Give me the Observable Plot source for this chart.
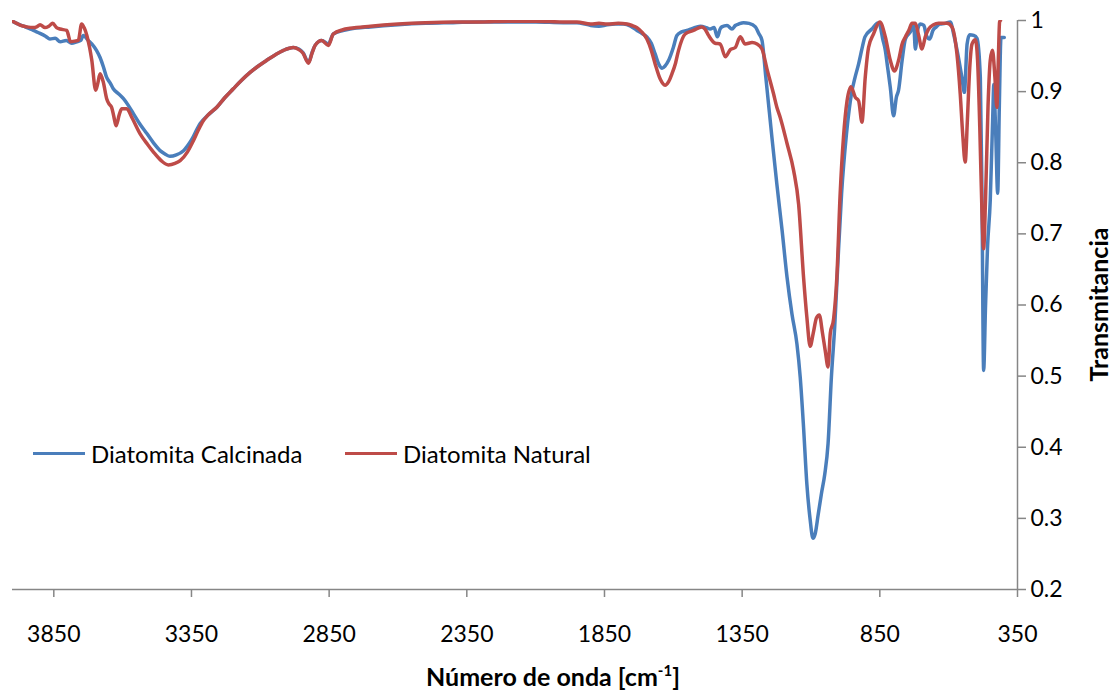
<!DOCTYPE html>
<html>
<head>
<meta charset="utf-8">
<script src="https://cdn.jsdelivr.net/npm/d3@7"></script>
<script src="https://cdn.jsdelivr.net/npm/@observablehq/plot@0.6"></script>
<style>
  html, body { margin: 0; padding: 0; background: #fff; }
  #wrap { position: relative; width: 1118px; height: 692px; font-family: Lato, "Open Sans", sans-serif; }
  .leg { position: absolute; display: flex; align-items: center; font-size: 24px; color: #000; white-space: nowrap; }
  .sw { display: inline-block; width: 52px; height: 3.5px; margin-right: 6px; }
</style>
</head>
<body>
<div id="wrap"></div>
<script>
// ---- Data ----
const xTicks = [3850, 3350, 2850, 2350, 1850, 1350, 850, 350];
const yTicks = [0.2, 0.3, 0.4, 0.5, 0.6, 0.7, 0.8, 0.9, 1];
const xDomain = [4000, 350];
const yDomain = [0.2, 1];
const seriesNames = ["Diatomita Calcinada", "Diatomita Natural"];
const seriesColors = ["#4A7EBB", "#BE4B48"];

const calcWn = [4000,3985,3960,3940,3924,3900,3880,3864,3845,3827,3805,3785,3767,3752,3743,3725,3712,3695,3682,3670,3658,3645,3634,3615,3597,3580,3561,3535,3512,3488,3464,3445,3428,3405,3379,3350,3319,3290,3258,3230,3198,3168,3137,3107,3077,3045,3016,2980,2960,2945,2925,2912,2901,2877,2853,2835,2800,2774,2700,2600,2500,2400,2300,2200,2100,2000,1950,1920,1900,1870,1840,1810,1781,1755,1732,1715,1696,1680,1666,1652,1641,1630,1617,1600,1587,1570,1551,1530,1502,1480,1466,1452,1440,1430,1424,1405,1387,1375,1363,1345,1325,1302,1290,1278,1264,1248,1242,1224,1205,1187,1169,1151,1139,1127,1115,1103,1093,1085,1074,1062,1050,1038,1026,1014,1002,989,971,953,940,927,915,904,879,860,853,848,840,830,822,812,800,790,782,769,757,739,727,721,713,703,690,681,669,657,645,633,612,594,582,567,552,543,533,524,509,497,485,479,473,466,459,449,440,436,429,422,416,410,398];
const calcT = [0.999,0.996,0.992,0.989,0.986,0.982,0.978,0.974,0.975,0.970,0.972,0.968,0.970,0.972,0.979,0.972,0.967,0.958,0.948,0.935,0.920,0.912,0.904,0.897,0.890,0.881,0.869,0.853,0.841,0.828,0.817,0.812,0.809,0.811,0.817,0.832,0.855,0.867,0.878,0.891,0.904,0.916,0.927,0.936,0.944,0.952,0.958,0.962,0.960,0.955,0.941,0.955,0.965,0.972,0.967,0.981,0.986,0.988,0.991,0.994,0.996,0.997,0.998,0.998,0.998,0.997,0.997,0.995,0.993,0.992,0.994,0.995,0.995,0.992,0.986,0.982,0.977,0.968,0.953,0.938,0.933,0.936,0.944,0.962,0.979,0.984,0.986,0.989,0.992,0.990,0.988,0.990,0.977,0.988,0.991,0.993,0.988,0.993,0.995,0.997,0.996,0.991,0.982,0.972,0.920,0.859,0.836,0.770,0.705,0.639,0.587,0.545,0.498,0.428,0.348,0.298,0.272,0.278,0.305,0.335,0.362,0.405,0.498,0.569,0.662,0.756,0.841,0.897,0.920,0.939,0.960,0.977,0.988,0.996,0.997,0.991,0.975,0.958,0.935,0.906,0.866,0.892,0.902,0.944,0.974,0.984,0.993,0.960,0.986,0.995,0.993,0.979,0.974,0.986,0.991,0.995,0.996,0.998,0.981,0.953,0.920,0.899,0.967,0.980,0.979,0.975,0.920,0.750,0.508,0.600,0.680,0.747,0.864,0.910,0.840,0.757,0.880,0.976,0.976];

const natWn = [4000,3985,3970,3948,3925,3912,3900,3882,3868,3854,3840,3827,3803,3789,3775,3761,3749,3740,3730,3720,3712,3698,3690,3682,3670,3658,3648,3640,3632,3624,3612,3603,3585,3567,3537,3510,3488,3460,3434,3410,3391,3365,3343,3325,3307,3290,3258,3230,3198,3168,3137,3107,3077,3045,3016,2980,2960,2945,2925,2912,2901,2877,2853,2835,2800,2774,2700,2600,2500,2400,2300,2200,2100,2000,1950,1900,1870,1840,1800,1768,1750,1732,1715,1696,1680,1666,1648,1630,1617,1605,1592,1581,1557,1527,1496,1485,1472,1448,1430,1411,1393,1375,1357,1339,1314,1296,1278,1260,1236,1224,1212,1187,1163,1145,1127,1115,1103,1092,1080,1070,1058,1048,1038,1030,1018,1006,994,982,969,955,939,927,915,903,891,873,850,830,812,797,782,769,757,745,733,721,709,697,685,673,655,637,606,588,570,558,549,540,532,524,515,503,495,487,479,473,466,457,449,441,432,425,420,415,412];
const natT = [0.999,0.996,0.993,0.991,0.990,0.991,0.994,0.990,0.992,0.996,0.990,0.988,0.986,0.970,0.971,0.972,0.995,0.990,0.979,0.962,0.944,0.902,0.912,0.925,0.913,0.890,0.882,0.878,0.865,0.852,0.868,0.876,0.876,0.864,0.841,0.826,0.815,0.803,0.797,0.799,0.803,0.815,0.831,0.846,0.859,0.867,0.878,0.891,0.904,0.916,0.927,0.936,0.944,0.952,0.958,0.962,0.959,0.954,0.940,0.954,0.965,0.972,0.965,0.981,0.987,0.989,0.992,0.995,0.997,0.998,0.998,0.999,0.999,0.998,0.998,0.995,0.996,0.995,0.996,0.995,0.993,0.990,0.984,0.974,0.958,0.939,0.918,0.909,0.914,0.925,0.940,0.958,0.981,0.986,0.991,0.988,0.979,0.968,0.967,0.949,0.959,0.962,0.977,0.967,0.969,0.967,0.960,0.932,0.897,0.878,0.864,0.827,0.789,0.742,0.639,0.583,0.542,0.560,0.582,0.586,0.560,0.535,0.513,0.560,0.580,0.640,0.757,0.836,0.887,0.907,0.892,0.887,0.857,0.920,0.962,0.981,0.998,0.977,0.944,0.929,0.944,0.967,0.977,0.986,0.996,0.996,0.979,0.960,0.977,0.988,0.994,0.996,0.996,0.991,0.953,0.897,0.840,0.801,0.860,0.930,0.967,0.973,0.944,0.850,0.730,0.679,0.750,0.880,0.944,0.958,0.920,0.878,0.940,0.998,1.0];

// ---- Build tables ----
const calc = calcWn.map((w, i) => ({wn: w, t: calcT[i], s: seriesNames[0]}));
const nat = natWn.map((w, i) => ({wn: w, t: natT[i], s: seriesNames[1]}));

const W = 1118, H = 692;
const mL = 12, mR = 101, mT = 20, mB = 103;
const axisGray = "#868686";

const chart = Plot.plot({
  width: W,
  height: H,
  marginLeft: mL,
  marginRight: mR,
  marginTop: mT,
  marginBottom: mB,
  style: {fontFamily: "Lato, 'Open Sans', sans-serif", fontSize: "23px", color: "#000", background: "#fff", overflow: "visible"},
  x: {domain: xDomain, axis: null},
  y: {domain: yDomain, axis: null},
  marks: [
    Plot.ruleY([yDomain[0]], {stroke: axisGray, strokeWidth: 1.5}),
    Plot.ruleX([xDomain[1]], {stroke: axisGray, strokeWidth: 1.5}),
    Plot.axisX({ticks: xTicks, tickSize: 8, tickPadding: 28, stroke: axisGray, strokeWidth: 1.5, fill: "#000", tickFormat: d => String(d), label: null}),
    Plot.axisY({anchor: "right", ticks: yTicks, tickSize: 8, tickPadding: 5, stroke: axisGray, strokeWidth: 1.5, fill: "#000", tickFormat: d => String(+d.toFixed(1)), label: null}),
    Plot.line(calc, {x: "wn", y: "t", stroke: seriesColors[0], strokeWidth: 3.5, curve: "monotone-x", clip: true}),
    Plot.line(nat, {x: "wn", y: "t", stroke: seriesColors[1], strokeWidth: 3.5, curve: "monotone-x", clip: true})
  ]
});

const wrap = document.getElementById("wrap");
wrap.appendChild(chart);

// Axis titles
const svg = d3.select(chart);
const xt = svg.append("text")
  .attr("x", 553).attr("y", 686)
  .attr("text-anchor", "middle")
  .attr("font-weight", "bold")
  .attr("font-size", 25)
  .attr("fill", "#000");
xt.append("tspan").text("Número de onda [cm");
xt.append("tspan").attr("dy", -10).attr("font-size", 15).text("-1");
xt.append("tspan").attr("dy", 10).text("]");

svg.append("text")
  .attr("transform", `translate(1108,${(mT + H - mB) / 2}) rotate(-90)`)
  .attr("text-anchor", "middle")
  .attr("font-weight", "bold")
  .attr("font-size", 25)
  .attr("fill", "#000")
  .text("Transmitancia");

// Legend (HTML overlay inside plot area)
const legPos = [{left: 33, top: 439}, {left: 345, top: 439}];
seriesNames.forEach((name, i) => {
  const d = document.createElement("div");
  d.className = "leg";
  d.style.left = legPos[i].left + "px";
  d.style.top = legPos[i].top + "px";
  d.innerHTML = `<span class="sw" style="background:${seriesColors[i]}"></span><span>${name}</span>`;
  wrap.appendChild(d);
});
</script>
</body>
</html>
